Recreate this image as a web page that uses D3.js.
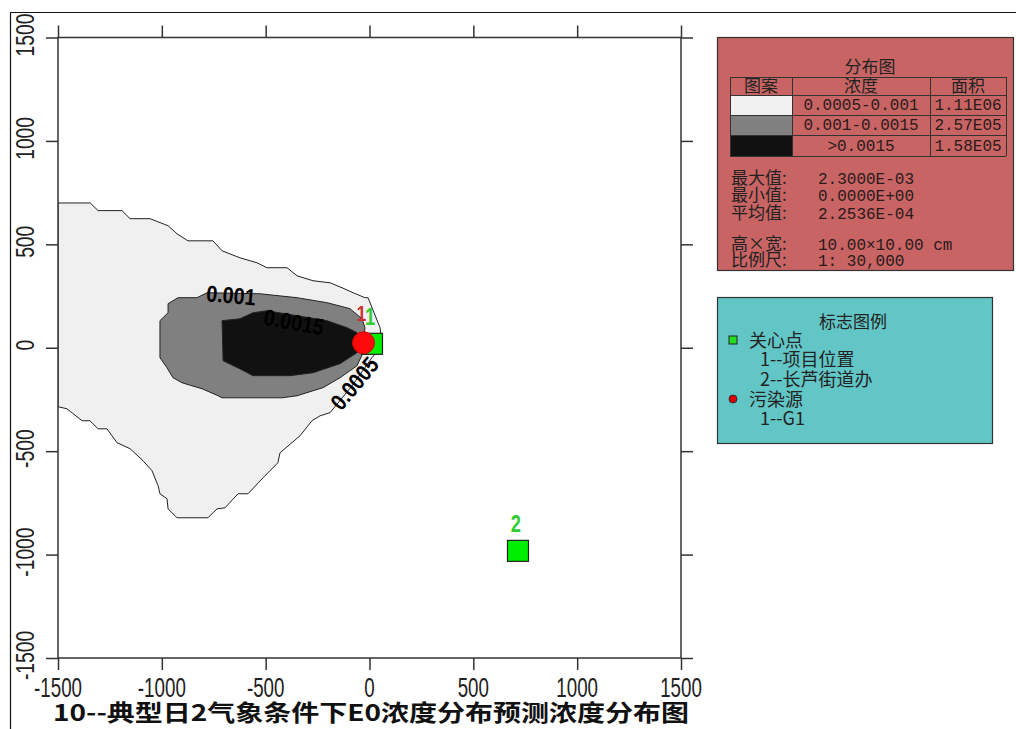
<!DOCTYPE html>
<html><head><meta charset="utf-8">
<script src="https://cdn.jsdelivr.net/npm/d3@7"></script>
<style>body{margin:0;background:#fff;overflow:hidden} svg{display:block}</style>
</head><body>
<svg id="c" width="1016" height="729"></svg>
<script>
// ---------------- data ----------------
const xTicks = [-1500, -1000, -500, 0, 500, 1000, 1500];
const yTicks = [-1500, -1000, -500, 0, 500, 1000, 1500];
const levelNames = ["0.0005", "0.001", "0.0015"];
const levelColors = ["#f0f0f0", "#808080", "#111111"];
const contour0005 = [[-1500,700],[-1345,700],[-1307,663],[-1192,663],[-1153,624],[-1057,624],[-970,590],[-927,551],[-874,517],[-754,517],[-710,469],[-624,435],[-542,411],[-494,387],[-397,387],[-349,348],[-272,324],[-190,314],[-132,290],[-79,266],[-22,242],[-7,242],[51,97],[60,10],[12,-48],[-84,-184],[-190,-314],[-238,-329],[-277,-353],[-335,-426],[-431,-508],[-441,-556],[-513,-629],[-585,-706],[-633,-706],[-696,-774],[-734,-779],[-778,-822],[-927,-822],[-970,-779],[-975,-730],[-1009,-706],[-1018,-667],[-1047,-595],[-1091,-546],[-1153,-488],[-1216,-459],[-1264,-392],[-1307,-392],[-1346,-353],[-1384,-353],[-1457,-295],[-1500,-285]];
const contour001 = [[-970,169],[-970,213],[-922,242],[-831,242],[-782,266],[-527,261],[-349,242],[-205,218],[-94,189],[-36,140],[-22,97],[-31,-24],[-60,-87],[-142,-145],[-224,-193],[-349,-232],[-421,-242],[-710,-242],[-729,-232],[-807,-198],[-855,-184],[-903,-169],[-946,-145],[-975,-97],[-1009,-48],[-1009,131]];
const contour0015 = [[-710,131],[-624,140],[-561,169],[-494,179],[-205,131],[-108,97],[-60,73],[-46,24],[-60,-24],[-142,-77],[-272,-121],[-383,-135],[-561,-135],[-624,-102],[-705,-63]];
const contourLabelText = ["0.001", "0.0015", "0.0005"];
const contourLabelX = [-667, -364, -70];
const contourLabelY = [251, 121, -174];
const contourLabelAngle = [5, 10, -50];
const sourceIds = ["1"];
const sourceX = [-29];
const sourceY = [24];
const pointIds = ["1", "2"];
const pointX = [12, 715];
const pointY = [19, -982];
const legendRanges = ["0.0005-0.001", "0.001-0.0015", ">0.0015"];
const legendAreas = ["1.11E06", "2.57E05", "1.58E05"];
const legendHeaders = ["图案", "浓度", "面积"];
const statNames = ["最大值:", "最小值:", "平均值:"];
const statValues = ["2.3000E-03", "0.0000E+00", "2.2536E-04"];
const sizeNames = ["高×宽:", "比例尺:"];
const sizeValues = ["10.00×10.00 cm", "1: 30,000"];
const pointLegendTitle = "关心点";
const pointLegendItems = ["1--项目位置", "2--长芦街道办"];
const sourceLegendTitle = "污染源";
const sourceLegendItems = ["1--G1"];
const titleText = "10--典型日2气象条件下E0浓度分布预测浓度分布图";

// ---------------- drawing ----------------
const svg = d3.select("#c");
const CJK = "'Noto Sans CJK SC','Noto Sans',sans-serif";
const SANS = "'Liberation Sans',Arial,sans-serif";
const MONO = "'Liberation Mono','DejaVu Sans Mono',monospace";

const x = d3.scaleLinear().domain([-1500, 1500]).range([58, 681]);
const y = d3.scaleLinear().domain([-1500, 1500]).range([658, 37.5]);

// outer border
svg.append("line").attr("x1", 10.5).attr("x2", 10.5).attr("y1", 12).attr("y2", 729).attr("stroke", "#111").attr("stroke-width", 1.2);
svg.append("line").attr("x1", 10).attr("x2", 1016).attr("y1", 12.5).attr("y2", 12.5).attr("stroke", "#111").attr("stroke-width", 1.2);

svg.append("clipPath").attr("id", "plotclip").append("rect")
  .attr("x", 58).attr("y", 37.5).attr("width", 623).attr("height", 620.5);
svg.append("clipPath").attr("id", "pageclip").append("rect")
  .attr("x", 11).attr("y", 13).attr("width", 1005).attr("height", 716);

const plot = svg.append("g").attr("clip-path", "url(#plotclip)");
const line = d3.line().x(d => x(d[0])).y(d => y(d[1])).curve(d3.curveLinearClosed);
[contour0005, contour001, contour0015].forEach((poly, i) => {
  plot.append("path").attr("d", line(poly))
    .attr("fill", levelColors[i]).attr("stroke", "#222").attr("stroke-width", 1)
    .attr("stroke-linejoin", "round");
});

// contour labels
contourLabelText.forEach((t, i) => {
  svg.append("text")
    .attr("transform", `translate(${x(contourLabelX[i])},${y(contourLabelY[i])}) rotate(${contourLabelAngle[i]}) scale(0.86,1)`)
    .attr("text-anchor", "middle").attr("dominant-baseline", "central")
    .attr("font-family", SANS).attr("font-weight", "bold").attr("font-size", 23)
    .attr("fill", "#000").text(t);
});

// frame + ticks
const mk = (axis, tr) => {
  const g = svg.append("g").attr("transform", tr).call(axis);
  g.select(".domain").remove();
  g.selectAll("text").remove();
  g.selectAll("line").attr("stroke", "#333").attr("stroke-width", 1.5);
};
mk(d3.axisBottom(x).tickValues(xTicks).tickSize(12), "translate(0,658)");
mk(d3.axisTop(x).tickValues(xTicks).tickSize(12), "translate(0,37.5)");
mk(d3.axisLeft(y).tickValues(yTicks).tickSize(12), "translate(58,0)");
mk(d3.axisRight(y).tickValues(yTicks).tickSize(12), "translate(681,0)");
svg.append("rect").attr("x", 58).attr("y", 37.5).attr("width", 623).attr("height", 620.5)
  .attr("fill", "none").attr("stroke", "#333").attr("stroke-width", 1.5);

// tick labels
const lab = svg.append("g").attr("clip-path", "url(#pageclip)");
xTicks.forEach(v => {
  lab.append("text").attr("transform", `translate(${x(v)},697) scale(0.67,1)`)
    .attr("text-anchor", "middle").attr("font-family", SANS).attr("font-size", 28)
    .attr("fill", "#222").text(v);
});
yTicks.forEach(v => {
  lab.append("text").attr("transform", `translate(34,${y(v) - 2.5}) rotate(-90) scale(0.74,1)`)
    .attr("text-anchor", "middle").attr("font-family", SANS).attr("font-size", 26)
    .attr("fill", "#222").text(v);
});

// sources
sourceIds.forEach((id, i) => {
  svg.append("text").attr("transform", `translate(${x(sourceX[i]) - 2},${y(sourceY[i]) - 22}) scale(0.8,1)`)
    .attr("text-anchor", "middle").attr("font-family", SANS).attr("font-weight", "bold")
    .attr("font-size", 22).attr("fill", "#d03030").text(id);
});
// points of concern
pointIds.forEach((id, i) => {
  const cx = x(pointX[i]), cy = y(pointY[i]);
  svg.append("rect").attr("x", cx - 10.5).attr("y", cy - 10.5).attr("width", 21).attr("height", 21)
    .attr("fill", "#00ee00").attr("stroke", "#222").attr("stroke-width", 1.2);
  svg.append("text").attr("transform", `translate(${cx - 2},${cy - 19}) scale(0.8,1)`)
    .attr("text-anchor", "middle").attr("font-family", SANS).attr("font-weight", "bold")
    .attr("font-size", 23).attr("fill", "#33cc33").text(id);
});
// source marker drawn on top of square 1 (as in the reference)
sourceIds.forEach((id, i) => {
  svg.append("circle").attr("cx", x(sourceX[i])).attr("cy", y(sourceY[i])).attr("r", 11)
    .attr("fill", "#ff0a0a").attr("stroke", "#d00000").attr("stroke-width", 1);
});

// title
svg.append("text").attr("x", 53).attr("y", 721).attr("font-family", CJK).attr("font-weight", "bold")
  .attr("font-size", 23).attr("fill", "#111").attr("textLength", 636).attr("lengthAdjust", "spacingAndGlyphs")
  .text(titleText);

// ---------- legend 1 ----------
const L1 = svg.append("g");
L1.append("rect").attr("x", 717.5).attr("y", 37.5).attr("width", 296).attr("height", 233)
  .attr("fill", "#c86464").attr("stroke", "#333").attr("stroke-width", 1.2);
L1.append("text").attr("x", 870).attr("y", 73).attr("text-anchor", "middle")
  .attr("font-family", CJK).attr("font-size", 17).attr("fill", "#222").text("分布图");
const colX = [730, 792, 930, 1006];
const rowY = [77, 95, 115, 135, 156];
legendHeaders.forEach((h, i) => {
  L1.append("text").attr("x", (colX[i] + colX[i + 1]) / 2).attr("y", 92).attr("text-anchor", "middle")
    .attr("font-family", CJK).attr("font-size", 17).attr("fill", "#222").text(h);
});
legendRanges.forEach((r, i) => {
  L1.append("rect").attr("x", colX[0]).attr("y", rowY[i + 1]).attr("width", colX[1] - colX[0])
    .attr("height", rowY[i + 2] - rowY[i + 1]).attr("fill", levelColors[i]);
  L1.append("text").attr("x", (colX[1] + colX[2]) / 2).attr("y", rowY[i + 2] - 5).attr("text-anchor", "middle")
    .attr("font-family", MONO).attr("font-size", 16).attr("fill", "#2a1a1a").text(r);
  L1.append("text").attr("x", (colX[2] + colX[3]) / 2).attr("y", rowY[i + 2] - 5).attr("text-anchor", "middle")
    .attr("font-family", MONO).attr("font-size", 16).attr("fill", "#2a1a1a").text(legendAreas[i]);
});
const tl = L1.append("g").attr("stroke", "#333").attr("stroke-width", 1);
rowY.forEach(v => tl.append("line").attr("x1", colX[0]).attr("x2", colX[3]).attr("y1", v + 0.5).attr("y2", v + 0.5));
colX.forEach(v => tl.append("line").attr("x1", v + 0.5).attr("x2", v + 0.5).attr("y1", rowY[0]).attr("y2", rowY[4]));

const statY = [184, 201, 219];
statNames.forEach((s, i) => {
  L1.append("text").attr("x", 731).attr("y", statY[i]).attr("font-family", CJK).attr("font-size", 17)
    .attr("fill", "#222").text(s);
  L1.append("text").attr("x", 818).attr("y", statY[i]).attr("font-family", MONO).attr("font-size", 16)
    .attr("fill", "#2a1a1a").text(statValues[i]);
});
const sizeY = [250, 266];
sizeNames.forEach((s, i) => {
  L1.append("text").attr("x", 731).attr("y", sizeY[i]).attr("font-family", CJK).attr("font-size", 17)
    .attr("fill", "#222").text(s);
  L1.append("text").attr("x", 818).attr("y", sizeY[i]).attr("font-family", MONO).attr("font-size", 16)
    .attr("fill", "#2a1a1a").text(sizeValues[i]);
});

// ---------- legend 2 ----------
const L2 = svg.append("g");
L2.append("rect").attr("x", 717.5).attr("y", 297.5).attr("width", 275).attr("height", 146)
  .attr("fill", "#62c6c6").attr("stroke", "#333").attr("stroke-width", 1.2);
L2.append("text").attr("x", 853).attr("y", 328).attr("text-anchor", "middle")
  .attr("font-family", CJK).attr("font-size", 17).attr("fill", "#222").text("标志图例");
L2.append("rect").attr("x", 729).attr("y", 336).attr("width", 8).attr("height", 8)
  .attr("fill", "#22dd22").attr("stroke", "#222").attr("stroke-width", 1);
L2.append("text").attr("x", 749).attr("y", 347).attr("font-family", CJK).attr("font-size", 18)
  .attr("fill", "#222").text(pointLegendTitle);
pointLegendItems.forEach((t, i) => {
  L2.append("text").attr("x", 760).attr("y", 366 + i * 20).attr("font-family", CJK).attr("font-size", 18)
    .attr("fill", "#222").text(t);
});
L2.append("circle").attr("cx", 733).attr("cy", 399).attr("r", 4)
  .attr("fill", "#dd0000").attr("stroke", "#333").attr("stroke-width", 1);
L2.append("text").attr("x", 749).attr("y", 406).attr("font-family", CJK).attr("font-size", 18)
  .attr("fill", "#222").text(sourceLegendTitle);
sourceLegendItems.forEach((t, i) => {
  L2.append("text").attr("x", 760).attr("y", 425 + i * 20).attr("font-family", CJK).attr("font-size", 18)
    .attr("fill", "#222").text(t);
});
</script>
</body></html>
